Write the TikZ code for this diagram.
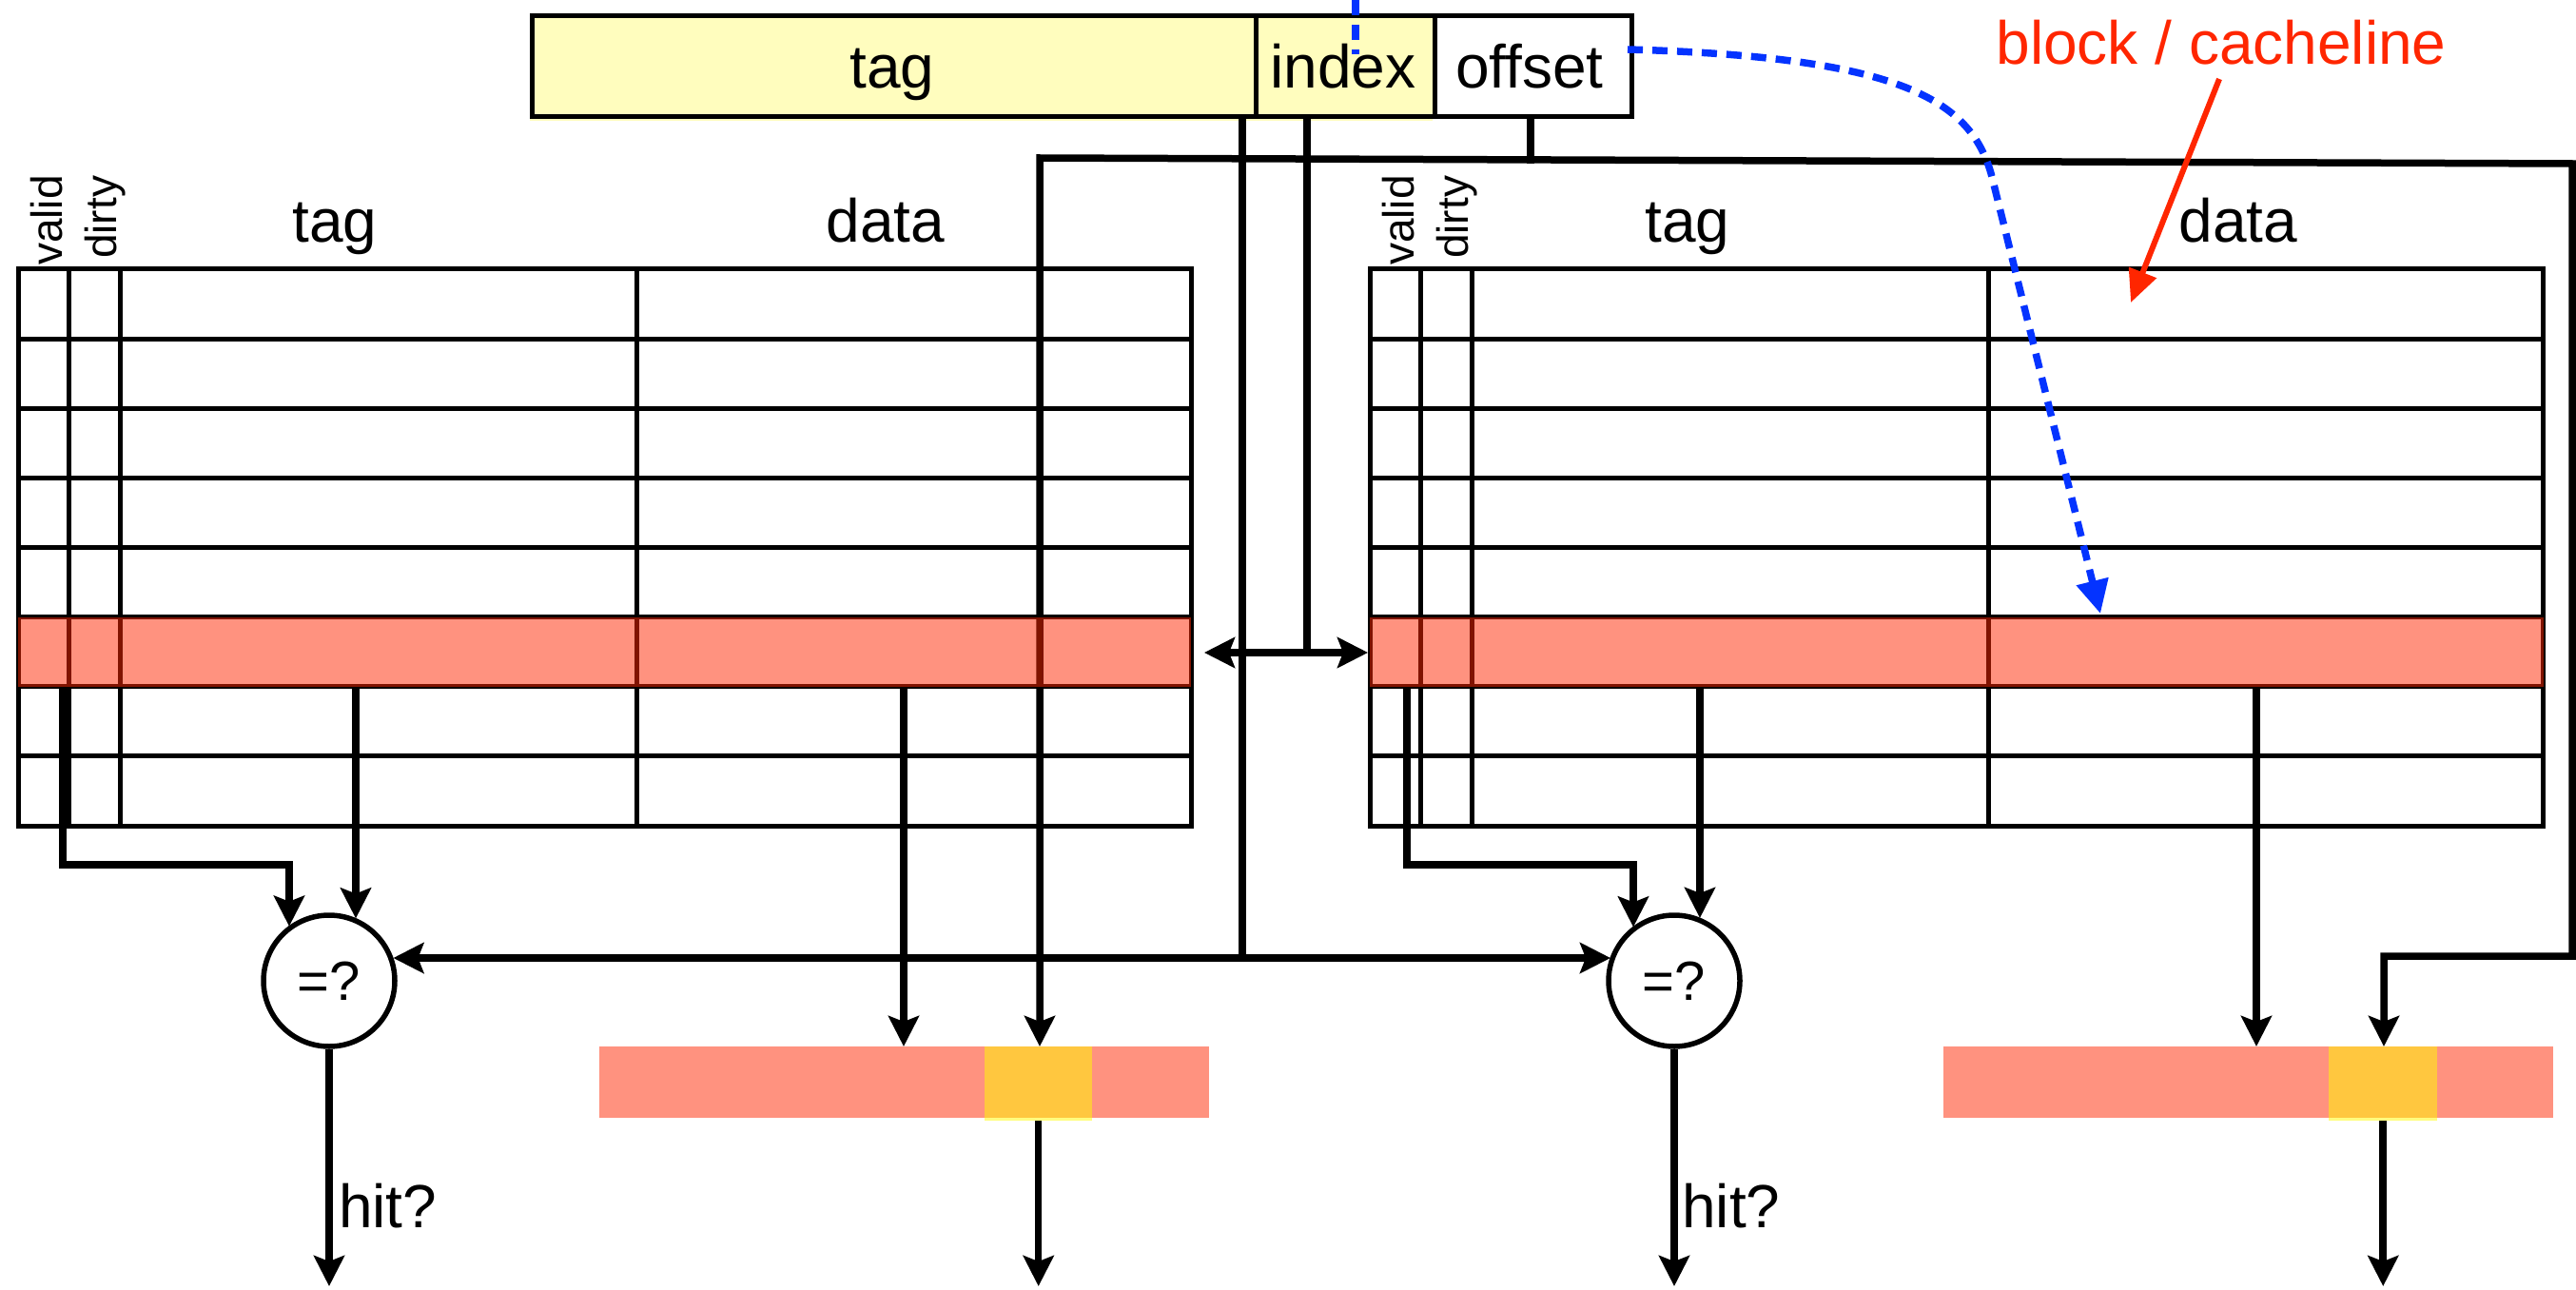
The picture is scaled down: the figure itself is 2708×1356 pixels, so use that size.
\documentclass[tikz,border=0pt]{standalone}
\usepackage{fontspec}
\setmainfont{Liberation Sans}
\usetikzlibrary{arrows.meta,calc}
\definecolor{hilite}{RGB}{255,38,0}
\definecolor{marker}{RGB}{255,251,0}
\definecolor{addrfill}{RGB}{255,253,190}
\definecolor{hintblue}{RGB}{4,51,255}
\newcommand\mainsize{\fontsize{64pt}{70pt}\selectfont}
\newcommand\bitsize{\fontsize{46pt}{50pt}\selectfont}
\begin{document}
\begin{tikzpicture}[x=1pt,y=-1pt,
  tblline/.style={line width=5pt, line cap=rect},
  field/.style={draw, line width=5pt, inner sep=0pt, anchor=north west},
  wire/.style={line width=7.5pt},
  sig/.style={wire, -{Stealth[length=32pt,width=32pt,inset=6pt]}},
  sigboth/.style={wire, {Stealth[length=32pt,width=32pt,inset=6pt]}-{Stealth[length=32pt,width=32pt,inset=6pt]}},
  lbl/.style={font=\mainsize, inner sep=0pt, anchor=base},
  bitlbl/.style={font=\bitsize, inner sep=0pt, rotate=90, anchor=base west},
  cmp/.style={circle, draw, line width=5.5pt, minimum size=138pt, inner sep=0pt, font=\fontsize{58pt}{60pt}\selectfont},
  selrow/.style={fill=hilite, fill opacity=0.5, inner sep=0pt, anchor=north west},
  datastrip/.style={fill=hilite, fill opacity=0.5, inner sep=0pt, anchor=north west},
  selbox/.style={fill=marker, fill opacity=0.5, inner sep=0pt, anchor=north west},
  hint/.style={hintblue, line width=7.5pt, dash pattern=on 16pt off 10pt}]
\useasboundingbox (0,0) rectangle (2708,1356);

% ---------- address: tag | index | offset ----------
\fill[addrfill] (557,14) rectangle (1506,127);
\node[field, minimum width=761pt, minimum height=106pt] (atag) at (557,14) {};
\node[field, minimum width=188pt, minimum height=106pt] (aidx) at (1318,14) {};
\node[field, minimum width=207pt, minimum height=106pt] (aoff) at (1506,14) {};
\node[lbl] (ttag) at (938,93) {tag};
\node[lbl] (tidx) at (1412,93) {index};
\node[lbl] (toff) at (1608,93) {offset};

% ---------- the two ways of the cache ----------
\foreach \tx in {19,1440} {
  \foreach \r in {0,...,8}
    \draw[tblline] (\tx,283+\r*73.125) -- (\tx+1233,283+\r*73.125);
  \foreach \c in {0,53,107,650,1233}
    \draw[tblline] (\tx+\c,283) -- (\tx+\c,868);
}
\node[bitlbl] (hValL) at (65,279) {valid};
\node[bitlbl] (hDirL) at (122,272) {dirty};
\node[lbl] (hTagL) at (352,255) {tag};
\node[lbl] (hDatL) at (931,255) {data};
\node[bitlbl] (hValR) at (1486,279) {valid};
\node[bitlbl] (hDirR) at (1543,272) {dirty};
\node[lbl] (hTagR) at (1774,255) {tag};
\node[lbl] (hDatR) at (2353,255) {data};

% ---------- comparators and selected blocks ----------
\node[cmp] (cmpL) at (346,1031) {=?};
\node[cmp] (cmpR) at (1760,1031) {=?};
\node[datastrip, minimum width=641pt, minimum height=75pt] (stripL) at (630,1100) {};
\node[selbox, minimum width=113pt, minimum height=78pt] (selL) at (1035,1100) {};
\node[datastrip, minimum width=641pt, minimum height=75pt] (stripR) at (2043,1100) {};
\node[selbox, minimum width=114pt, minimum height=78pt] (selR) at (2448,1100) {};

% ---------- read-out points ----------
\coordinate (vL) at (66,722);   \coordinate (vLk) at (304,909);
\coordinate (tL) at (374,722);  \coordinate (dL) at (950,722);
\coordinate (vR) at (1479,722); \coordinate (vRk) at (1717,909);
\coordinate (tR) at (1787,722); \coordinate (dR) at (2372,722);
\coordinate (tagOut) at (1306,120); \coordinate (busJ) at (1306,1007);
\coordinate (idxOut) at (1374,120); \coordinate (idxJ) at (1374,686);
\coordinate (rowLe) at (1266,686);  \coordinate (rowRw) at (1438,686);
\coordinate (offOut) at (1609,120); \coordinate (offJ) at (1609,172);
\coordinate (thL) at (1093,166);    \coordinate (thR) at (2704,172);
\coordinate (offR) at (2506,1005);
\coordinate (hitL) at (346,1352);   \coordinate (hitR) at (1760,1352);

% valid bit and tag into the comparators
\draw[sig] (vL) |- (vLk) -- (vLk |- cmpL.127.5);
\draw[sig] (tL) -- (tL |- cmpL.66);
\draw[sig] (vR) |- (vRk) -- (vRk |- cmpR.128.6);
\draw[sig] (tR) -- (tR |- cmpR.67);
% data block out of each way
\draw[sig] (dL) -- (dL |- stripL.north);
\draw[sig] (dR) -- (dR |- stripR.north);
% address tag onto the comparator bus
\draw[wire] (tagOut) -- (busJ);
\draw[sig] (busJ) -- (busJ -| cmpL.20.3);
\draw[sig] (busJ) -- (busJ -| cmpR.159.7);
% index selects the set
\draw[wire] (idxOut) -- (idxJ);
\draw[sigboth] (rowLe) -- (rowRw);
% offset selects the word inside the block
\draw[wire] (offOut) -- (offJ);
\draw[sigboth] (thL |- stripL.north) -- (thL) -- (thR) |- (offR) -- (offR |- stripR.north);
% outputs
\draw[sig] (cmpL.south) -- (hitL);
\draw[sig] (cmpR.south) -- (hitR);
\draw[sig] (selL.south) -- (selL.south |- hitL);
\draw[sig] (selR.south) -- (selR.south |- hitR);
\node[lbl, anchor=base west] (hitLblL) at (356,1290) {hit?};
\node[lbl, anchor=base west] (hitLblR) at (1768,1290) {hit?};

% selected set, highlighted over both ways
\node[selrow, minimum width=1233pt, minimum height=73.1pt] (rowL) at (19,648.7) {};
\node[selrow, minimum width=1234pt, minimum height=73.1pt] (rowR) at (1440,648.7) {};

% ---------- annotations ----------
\coordinate (bv1) at (1425,0); \coordinate (bv2) at (1425,57);
\draw[hint] (bv1) -- (bv2);
\coordinate (bS) at (1711,52); \coordinate (bMid) at (2095,190); \coordinate (bT) at (2208,645);
\draw[hint, -{Triangle[length=35pt,width=33pt]}] (bS) .. controls (2000,60) and (2075,105) .. (bMid) -- (bT);
\node[lbl, text=hilite] (cl) at (2335,68) {block / cacheline};
\coordinate (rS) at (2333,83); \coordinate (rT) at (2240,318);
\draw[line width=6pt, hilite, -{Triangle[length=34pt,width=30pt]}] (rS) -- (rT);
\end{tikzpicture}
\end{document}
